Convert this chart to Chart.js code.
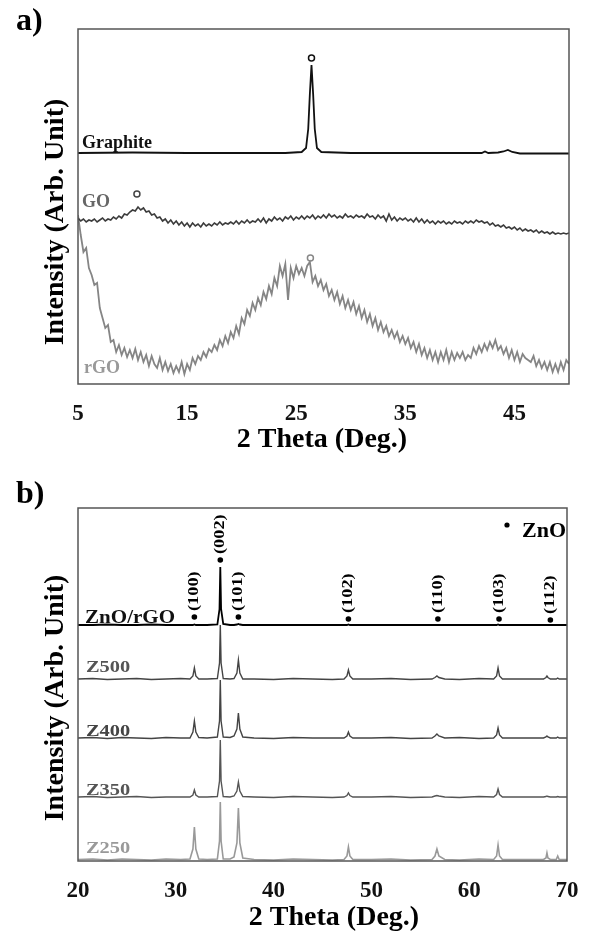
<!DOCTYPE html>
<html>
<head>
<meta charset="utf-8">
<title>XRD patterns</title>
<script src="https://cdn.jsdelivr.net/npm/chart.js@4.4.1/dist/chart.umd.min.js"></script>
<style>
  html, body { margin: 0; padding: 0; background: #fff; }
  .panel { position: absolute; left: 0; width: 591px; height: 466px; }
  #panelA { top: 0; }
  #panelB { top: 466px; }
</style>
</head>
<body>
<div class="panel" id="panelA"><canvas id="chartA"></canvas></div>
<div class="panel" id="panelB"><canvas id="chartB"></canvas></div>
<script>
// ---- a) graphite / GO / rGO ----
// GO and rGO were read off on a 0.25 deg grid from 5 to 50 deg
const scanStartA = 5;
const scanStepA = 0.25;
const goCounts = [
  166,163,165,162,164,163,165,162,164,166,163,165,164,167,165,168,166,170,169,172,
  174,173,177,174,176,172,173,169,170,166,167,163,165,161,164,160,163,159,162,158,
  161,157,161,158,160,157,161,158,160,158,161,159,162,159,161,160,162,160,163,160,
  163,161,164,161,163,162,165,162,166,161,165,163,167,164,166,163,167,165,168,164,
  167,165,168,165,168,166,169,165,168,166,169,166,170,167,169,166,168,166,170,167,
  168,166,169,167,168,166,170,167,168,165,169,166,168,163,170,164,167,163,166,164,
  166,163,165,162,166,162,165,161,164,161,163,160,163,161,163,160,162,160,163,161,
  162,160,163,161,163,161,164,162,163,161,162,159,161,158,159,157,159,156,157,155,
  157,154,156,153,155,153,154,152,154,151,153,151,152,150,152,150,151,150,151,150,
  151
];
const rgoCounts = [
  169,149,132,136,116,109,99,101,76,66,56,59,42,44,32,39,29,36,27,34,
  26,35,24,32,22,29,18,28,20,16,26,14,22,13,20,11,18,12,22,10,
  20,14,26,20,28,24,32,27,35,32,39,34,44,38,48,41,52,46,58,50,
  66,60,74,68,81,74,86,79,92,85,98,90,106,98,118,108,120,84,116,106,
  118,110,116,108,118,122,102,108,98,104,94,100,88,94,84,92,80,88,76,84,
  74,82,70,78,66,74,62,70,58,66,54,62,52,58,48,54,46,52,42,48,
  40,46,36,42,32,40,29,36,26,34,24,32,22,32,24,34,22,32,24,31,
  26,32,24,29,26,36,30,38,32,40,34,42,36,44,34,38,30,36,26,34,
  24,32,22,30,26,24,22,28,18,24,16,22,14,22,12,20,12,22,14,24,
  20
];
const graphiteTheta = [5, 10, 15, 20, 24, 25.5, 25.9, 26.1, 26.25, 26.4, 26.55, 26.7, 26.9, 27.3,
  30, 35, 40, 42, 42.3, 42.6, 43.5, 44, 44.4, 44.8, 45.5, 50];
const graphiteCounts = [231, 231.5, 231, 231, 231, 232, 236, 255, 290, 319, 290, 255, 236, 232,
  231, 231, 231, 231, 232.5, 231, 231.5, 232.5, 234, 232, 230.5, 230.5];
const ticksA = [5, 15, 25, 35, 45];
// open-circle peak marks: [2theta, level]
const ringGraphite = [26.4, 326];
const ringGO = [10.4, 190];
const ringRGO = [26.3, 126];

// ---- b) ZnO samples ----
const thetaB = [20, 21.5, 23, 24.5, 26, 27.5, 29, 30.5,
  31.45, 31.75, 31.9, 32.05, 32.35,
  33.2, 34.25, 34.47, 34.55, 34.63, 34.85,
  35.55, 35.95, 36.25, 36.4, 36.55, 36.85,
  38, 40, 42, 44, 46,
  47.2, 47.5, 47.65, 47.8, 48.1,
  50, 52, 54, 56.2,
  56.5, 56.7, 56.9,
  57.5, 59, 61, 62.5,
  62.8, 62.95, 63.1, 63.4,
  65, 67.6, 67.85, 67.95, 68.05, 68.3,
  68.9, 69.05, 69.2, 70];
const znoRgo = [236,236,236.5,236,236,236.5,236,236,
  236,236,236.5,236,236,
  236,236.5,252,294,252,237,
  236,236,236.5,237,236.5,236,
  236,236,236,236,236,
  236,236,236.5,236,236,
  236,236,236,236,
  236,236,236,
  236,236,236,236,
  236,236.5,236,236,
  236,236,236,236,236,236,
  236,236,236,236];
const z500 = [182,182.5,181.5,182,182.5,181.5,182,182.5,
  182,185,193,185,182,
  182,182.5,198,236,198,182.5,
  182,182.5,188,201,188,182,
  182,181.5,182.5,182,181.5,
  182,185,191,185,182,
  182,182.5,181.5,182,
  183.5,185,183.5,
  182,181.5,182.5,182,
  185,193,185,182,
  182,182,183.5,185,183.5,182,
  182,183,182,182];
const z400 = [123,123.5,122.5,123.5,123,122.5,123.5,123,
  123,129,140,129,123.5,
  123,124,140,181,140,124,
  123.5,125,132,148,132,124,
  123,122.5,123.5,123,123,
  123,125,129,125,123,
  123,123.5,122.5,123,
  125,127,125,
  123,123.5,122.5,123,
  126,133,126,123,
  123,123,124,125,124,123,
  123,124,123,123];
const z350 = [64,64.5,63.5,64,64.5,63.5,64,64,
  64,66,71,66,64,
  64,64.5,80,121,80,64.5,
  64,65,70,79,70,64.5,
  64,63.5,64.5,64,63.5,
  64,65.5,68,65.5,64,
  64,64.5,63.5,64,
  65,65.5,65,
  64,63.5,64.5,64,
  66.5,72,66.5,64,
  64,64,64.5,65,64.5,64,
  64,64.5,64,64];
const z250 = [1.5,2,1,2,1.5,1,2,1.5,
  2,12,34,12,2,
  1.5,2,20,59,20,2,
  2,4,18,53,18,3,
  1.5,1,2,1.5,1,
  1.5,5,14,5,1.5,
  1.5,2,1,1.5,
  5,12,5,
  1.5,1,2,1.5,
  5,16,5,1.5,
  1.5,1.5,3,8,3,1.5,
  1.5,5,1.5,1.5];
const ticksB = [20, 30, 40, 50, 60, 70];
const hklLabels = ['(100)', '(002)', '(101)', '(102)', '(110)', '(103)', '(112)'];
const hklTheta = [31.9, 34.55, 36.4, 47.65, 56.8, 63.05, 68.3];
const hklLevel = [244, 301, 244, 242, 242, 242, 241];

const SERIF = '"Liberation Serif", "Times New Roman", serif';

function drawText(ctx, str, px, py, size, color, opt = {}) {
  ctx.save();
  ctx.translate(px, py);
  if (opt.rot) ctx.rotate(opt.rot);
  ctx.scale(opt.sx || 1, 1);
  ctx.font = `bold ${size}px ${SERIF}`;
  ctx.fillStyle = color;
  ctx.textAlign = opt.align || 'left';
  ctx.textBaseline = opt.base || 'alphabetic';
  ctx.fillText(str, 0, 0);
  ctx.restore();
}

function frame(ctx, a) {
  ctx.save();
  ctx.strokeStyle = '#555';
  ctx.lineWidth = 1.5;
  ctx.strokeRect(a.left, a.top, a.right - a.left, a.bottom - a.top);
  ctx.restore();
}

function ring(ctx, chart, mark, color) {
  const {x, y} = chart.scales;
  ctx.save();
  ctx.beginPath();
  ctx.arc(x.getPixelForValue(mark[0]), y.getPixelForValue(mark[1]), 3, 0, Math.PI * 2);
  ctx.strokeStyle = color;
  ctx.lineWidth = 1.5;
  ctx.stroke();
  ctx.restore();
}

function dot(ctx, px, py, r) {
  ctx.beginPath();
  ctx.arc(px, py, r, 0, Math.PI * 2);
  ctx.fillStyle = '#000';
  ctx.fill();
}

const overlayA = {
  id: 'overlayA',
  afterDraw(chart) {
    const {ctx, chartArea: a, scales: {y}} = chart;
    frame(ctx, a);
    drawText(ctx, 'a)', 16, 30, 32, '#000');
    drawText(ctx, 'Intensity (Arb. Unit)', 56, 222, 28, '#000', {rot: -Math.PI / 2, align: 'center', base: 'middle'});
    drawText(ctx, '2 Theta (Deg.)', 322, 447, 28, '#000', {align: 'center'});
    drawText(ctx, 'Graphite', a.left + 4, y.getPixelForValue(236), 18, '#111');
    drawText(ctx, 'GO', a.left + 4, y.getPixelForValue(177), 18, '#666');
    drawText(ctx, 'rGO', a.left + 6, y.getPixelForValue(11), 18, '#999');
    ring(ctx, chart, ringGraphite, '#111');
    ring(ctx, chart, ringGO, '#444');
    ring(ctx, chart, ringRGO, '#888');
  }
};

const overlayB = {
  id: 'overlayB',
  afterDraw(chart) {
    const {ctx, chartArea: a, scales: {x, y}} = chart;
    frame(ctx, a);
    drawText(ctx, 'b)', 16, 37, 32, '#000');
    drawText(ctx, 'Intensity (Arb. Unit)', 56, 232, 28, '#000', {rot: -Math.PI / 2, align: 'center', base: 'middle'});
    drawText(ctx, '2 Theta (Deg.)', 334, 459, 28, '#000', {align: 'center'});
    drawText(ctx, 'ZnO/rGO', a.left + 7, y.getPixelForValue(238), 18, '#111', {sx: 1.17});
    drawText(ctx, 'Z500', a.left + 8, y.getPixelForValue(189), 17, '#555', {sx: 1.2});
    drawText(ctx, 'Z400', a.left + 8, y.getPixelForValue(125), 17, '#444', {sx: 1.2});
    drawText(ctx, 'Z350', a.left + 8, y.getPixelForValue(66), 17, '#555', {sx: 1.2});
    drawText(ctx, 'Z250', a.left + 8, y.getPixelForValue(8), 17, '#999', {sx: 1.2});
    // hkl marks
    ctx.save();
    hklLabels.forEach((lbl, i) => {
      const px = x.getPixelForValue(hklTheta[i]);
      const py = y.getPixelForValue(hklLevel[i]);
      dot(ctx, px, py, 2.8);
      drawText(ctx, lbl, px, py - 6, 15, '#000', {rot: -Math.PI / 2, base: 'middle', sx: 1.22});
    });
    // legend
    dot(ctx, a.right - 60, a.top + 17, 2.6);
    ctx.restore();
    drawText(ctx, 'ZnO', a.right - 1, a.top + 29, 22, '#000', {align: 'right'});
  }
};

function xrdOptions(cfg) {
  return {
    responsive: true,
    maintainAspectRatio: false,
    animation: false,
    layout: { padding: { left: 78, top: cfg.top, right: cfg.right, bottom: 0 } },
    plugins: { legend: { display: false }, tooltip: { enabled: false } },
    elements: { point: { radius: 0 }, line: { tension: 0 } },
    scales: {
      x: {
        type: 'linear',
        min: cfg.xMin,
        max: cfg.xMax,
        grid: { display: false },
        border: { display: false },
        ticks: {
          padding: 8,
          color: '#111',
          maxRotation: 0,
          autoSkip: false,
          font: { family: SERIF, size: 23, weight: 'bold' }
        },
        afterBuildTicks: s => { s.ticks = cfg.ticks.map(v => ({ value: v })); },
        afterFit: s => { s.height = cfg.axisHeight; }
      },
      y: { display: false, min: 0, max: cfg.yMax }
    }
  };
}

function series(xs, ys, color, width) {
  return {
    data: xs.map((t, i) => ({ x: t, y: ys[i] })),
    borderColor: color,
    borderWidth: width,
    fill: false
  };
}

const gridA = goCounts.map((_, i) => scanStartA + i * scanStepA);

new Chart(document.getElementById('chartA'), {
  type: 'line',
  data: {
    datasets: [
      series(graphiteTheta, graphiteCounts, '#111', 1.8),
      series(gridA, goCounts, '#3c3c3c', 1.6),
      series(gridA, rgoCounts, '#858585', 1.8)
    ]
  },
  options: xrdOptions({ top: 29, right: 22, axisHeight: 82, xMin: 5, xMax: 50, yMax: 355, ticks: ticksA }),
  plugins: [overlayA]
});

new Chart(document.getElementById('chartB'), {
  type: 'line',
  data: {
    datasets: [
      series(thetaB, znoRgo, '#000', 1.8),
      series(thetaB, z500, '#444', 1.4),
      series(thetaB, z400, '#444', 1.4),
      series(thetaB, z350, '#555', 1.4),
      series(thetaB, z250, '#999', 1.6)
    ]
  },
  options: xrdOptions({ top: 42, right: 24, axisHeight: 71, xMin: 20, xMax: 70, yMax: 353, ticks: ticksB }),
  plugins: [overlayB]
});
</script>
</body>
</html>
